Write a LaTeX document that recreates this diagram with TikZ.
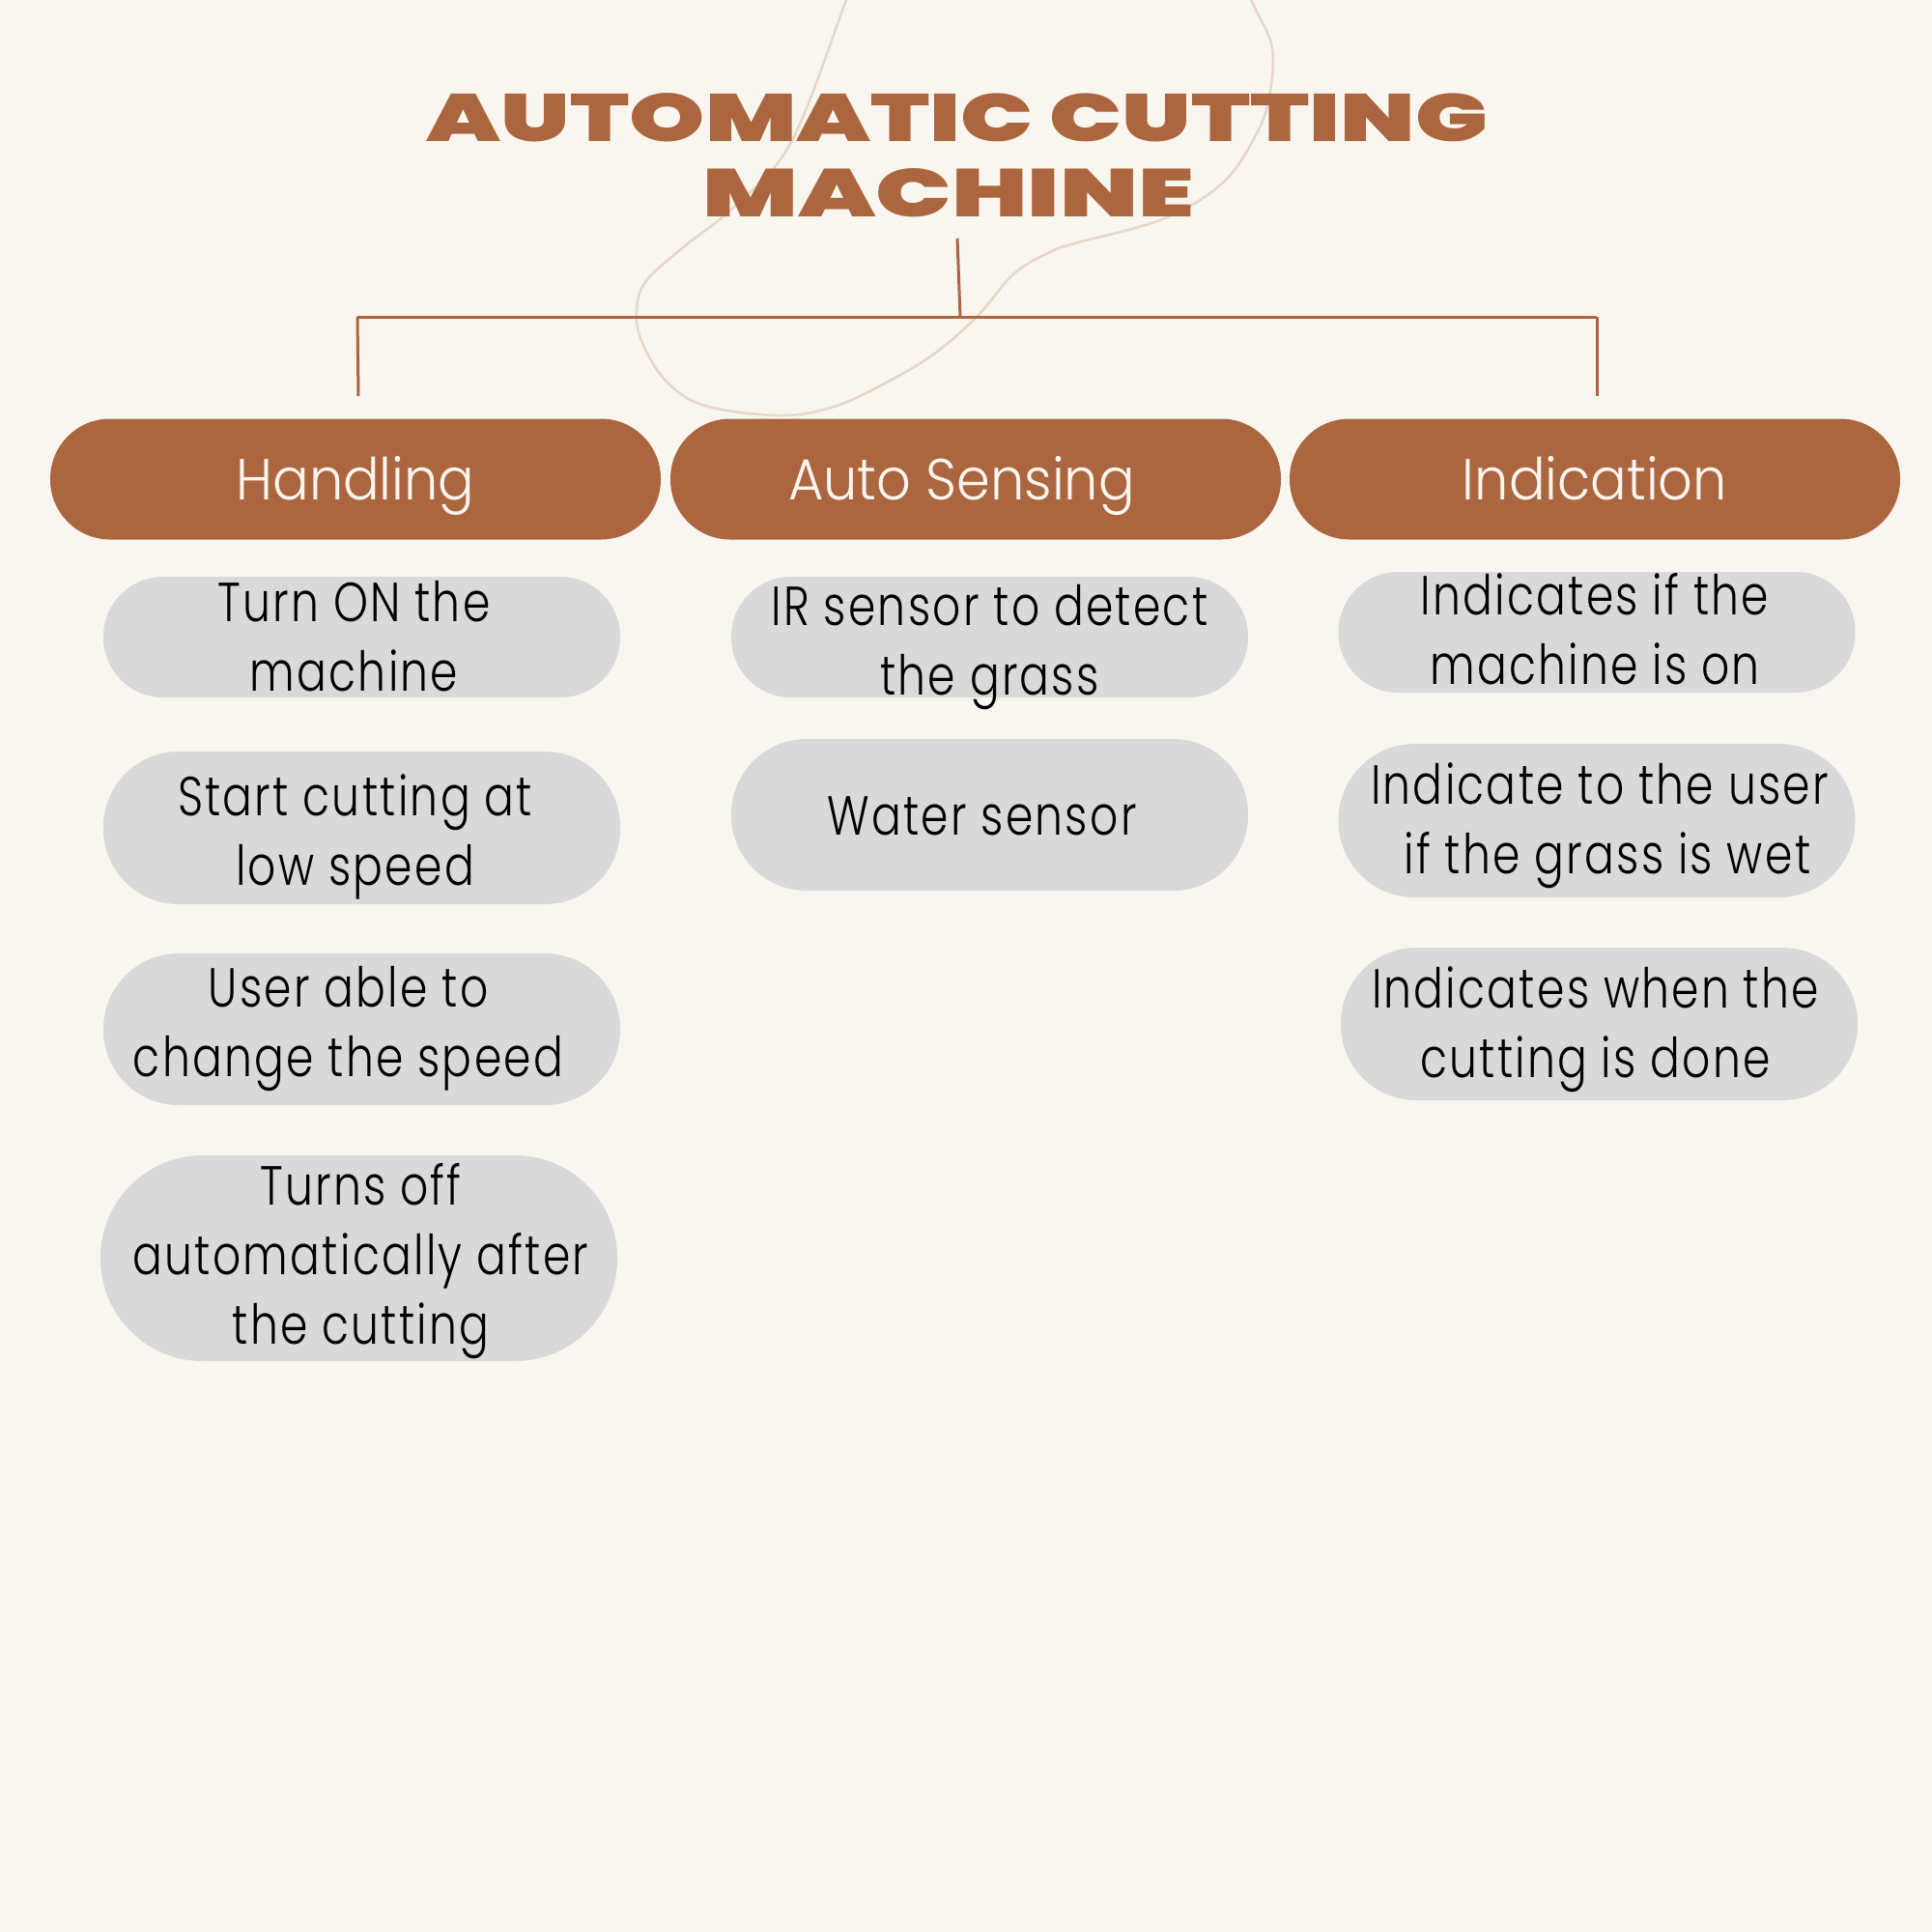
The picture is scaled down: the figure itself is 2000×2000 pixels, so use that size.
\documentclass[tikz,border=0pt]{standalone}
\usepackage{fontspec}
\newfontfamily\itemfont{Poppins Light}[FakeStretch=0.80, LetterSpace=4]
\newfontfamily\headfont{Poppins Light}[FakeStretch=0.93]
\newfontfamily\titlefont{Poppins Black}
\definecolor{bg}{HTML}{F9F6EF}
\definecolor{rust}{HTML}{AB6640}
\definecolor{pillgrey}{HTML}{D9D9D9}
\definecolor{cream}{HTML}{FAF6EE}
\definecolor{swirl}{HTML}{E8D6C8}
% #1 vertical raise, #2 horizontal shift, #3 lines
\newcommand{\pilltext}[3]{\hspace*{#2}\raisebox{#1}[\dimexpr\height-20pt\relax][\dimexpr\depth-20pt\relax]{\begin{tabular}{@{}c@{}}#3\end{tabular}}\hspace*{-#2}}
\begin{document}
\begin{tikzpicture}[x=1pt,y=-1pt,
  head/.style={fill=rust, text=cream, rounded corners=62pt, minimum width=632pt,
    minimum height=125pt, inner sep=0pt, font=\headfont\fontsize{60pt}{72pt}\selectfont,
    text height=42pt, text depth=0pt},
  item/.style={fill=pillgrey, text=black, minimum width=535pt, inner sep=0pt,
    font=\itemfont\fontsize{57pt}{72pt}\selectfont},
  link/.style={draw=rust, line width=3pt},
  swirlline/.style={draw=swirl, line width=2.5pt}]
\fill[bg] (0,0) rectangle (2000,2000);
\useasboundingbox (0,0) rectangle (2000,2000);
\begin{scope}
  \clip (0,0) rectangle (2000,2000);
  \draw[swirlline] plot[smooth, tension=0.6] coordinates {
    (884,-20) (876,0) (819,147) (760,214) (706,257) (668,292) (659,323) (665,355)
    (690,395) (730,420) (806,430) (860,422) (910,400) (966,367) (1012,327) (1050,283)
    (1089,260) (1112,252) (1203,227) (1265,190) (1300,140) (1314,100) (1317,50)
    (1300,10) (1285,-20)};
\end{scope}
% title
\node[anchor=north, inner sep=0pt, align=center, text=rust,
  font=\titlefont\fontsize{60pt}{78pt}\selectfont] (title) at (991,96)
  {\resizebox{1098pt}{50pt}{AUTOMATIC CUTTING}\\\resizebox{509pt}{50pt}{MACHINE}\hspace*{18pt}};
% tree
\coordinate (hub) at (994,328);
\coordinate (jL) at (370,328);
\coordinate (jR) at (1653,328);
\coordinate (lL) at (371,410);
\coordinate (lR) at (1653,410);
\draw[link] ([yshift=-22pt]title.south) -- (hub);
\draw[link] (jL) -- (jR);
\draw[link] (jL) -- (lL);
\draw[link] (jR) -- (lR);
% headers
\node[head] (hand) at (368,496) {Handling};
\node[head] (auto) at (1010,496) {Auto Sensing\hspace*{29pt}};
\node[head] (ind) at (1651,496) {Indication};
% handling items
\node[item, minimum height=125pt, rounded corners=62pt] (h1) at (374.5,659.5)
  {\pilltext{-6pt}{-8pt}{Turn ON the\\machine}};
\node[item, minimum height=158pt, rounded corners=78pt] (h2) at (374.5,857)
  {\pilltext{-8.6pt}{-7pt}{Start cutting at\\low speed}};
\node[item, minimum height=157pt, rounded corners=78pt] (h3) at (374.5,1065.5)
  {\pilltext{1pt}{-14pt}{User able to\\change the speed}};
\node[item, minimum height=213pt, rounded corners=106pt] (h4) at (371.5,1302.5)
  {\pilltext{-3pt}{2pt}{Turns off\\automatically after\\the cutting}};
% sensing items
\node[item, minimum height=125pt, rounded corners=62pt] (s1) at (1024.5,659.5)
  {\pilltext{-10pt}{0pt}{IR sensor to detect\\the grass}};
\node[item, minimum height=157pt, rounded corners=78pt] (s2) at (1024.5,843.5)
  {\pilltext{-7pt}{-8pt}{Water sensor}};
% indication items
\node[item, minimum height=125pt, rounded corners=62pt] (i1) at (1653,654.5)
  {\pilltext{-4pt}{-2pt}{Indicates if the\\machine is on}};
\node[item, minimum height=159pt, rounded corners=79pt] (i2) at (1653,849.5)
  {\pilltext{-5pt}{3pt}{Indicate to the user\\\hspace*{16pt}if the grass is wet}};
\node[item, minimum height=158pt, rounded corners=78pt] (i3) at (1655.5,1060)
  {\pilltext{-5pt}{-4pt}{Indicates when the\\cutting is done}};
\end{tikzpicture}
\end{document}
